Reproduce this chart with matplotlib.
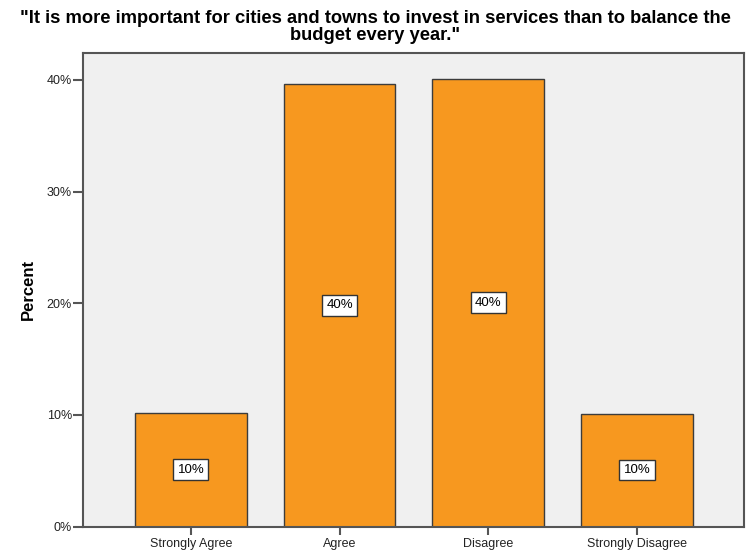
import matplotlib
matplotlib.use("Agg")
import matplotlib.pyplot as plt
from matplotlib.ticker import FuncFormatter

plt.rcParams["font.family"] = ["Liberation Sans", "DejaVu Sans"]

TITLE_LINES = ['"It is more important for cities and towns to invest in services than to balance the',
               'budget every year."']
categories = ["Strongly Agree", "Agree", "Disagree", "Strongly Disagree"]
percent = [10.2, 39.6, 40.1, 10.1]
bar_labels = ["10%", "40%", "40%", "10%"]
y_ticks = [0, 10, 20, 30, 40]

BAR_COLOR = "#F7981F"
EDGE = "#3C3C3C"
AXIS_COLOR = "#555555"

W, H = 746, 554
fig = plt.figure(figsize=(W / 100, H / 100), dpi=100)
ax = fig.add_axes([0.1113, 0.0493, 0.886, 0.855])
ax.set_facecolor("#F0F0F0")

x = list(range(len(categories)))
ax.bar(x, percent, width=0.75, color=BAR_COLOR, edgecolor=EDGE, linewidth=1.0, zorder=2)

for xi, val, lab in zip(x, percent, bar_labels):
    ax.text(xi, val / 2, lab, ha="center", va="center", fontsize=9.5, color="black",
            bbox=dict(boxstyle="square,pad=0.32", facecolor="white", edgecolor="#333333", linewidth=1.0),
            zorder=3)

ax.set_xlim(-0.725, 3.72)
ax.set_ylim(0, 42.4)
ax.set_xticks(x)
ax.set_xticklabels(categories, fontsize=9, color="#222222")
ax.set_yticks(y_ticks)
ax.yaxis.set_major_formatter(FuncFormatter(lambda v, _: f"{v:.0f}%"))
ax.tick_params(axis="y", labelsize=9, labelcolor="#222222", length=7, width=1.5,
               color=AXIS_COLOR, direction="out", pad=1)
ax.tick_params(axis="x", length=6, width=1.5, color=AXIS_COLOR, direction="out", pad=2)

for side in ["left", "right", "top", "bottom"]:
    ax.spines[side].set_color(AXIS_COLOR)
    ax.spines[side].set_linewidth(1.5)

ax.set_ylabel("Percent", fontsize=12, fontweight="bold", labelpad=8)

# two title lines, baselines placed in pixel rows
for line, base_px in zip(TITLE_LINES, [23, 40]):
    fig.text(0.503, 1 - base_px / H, line, ha="center", va="baseline",
             fontsize=13.2, fontweight="bold")

fig.savefig("out.png", dpi=100, facecolor="white")
